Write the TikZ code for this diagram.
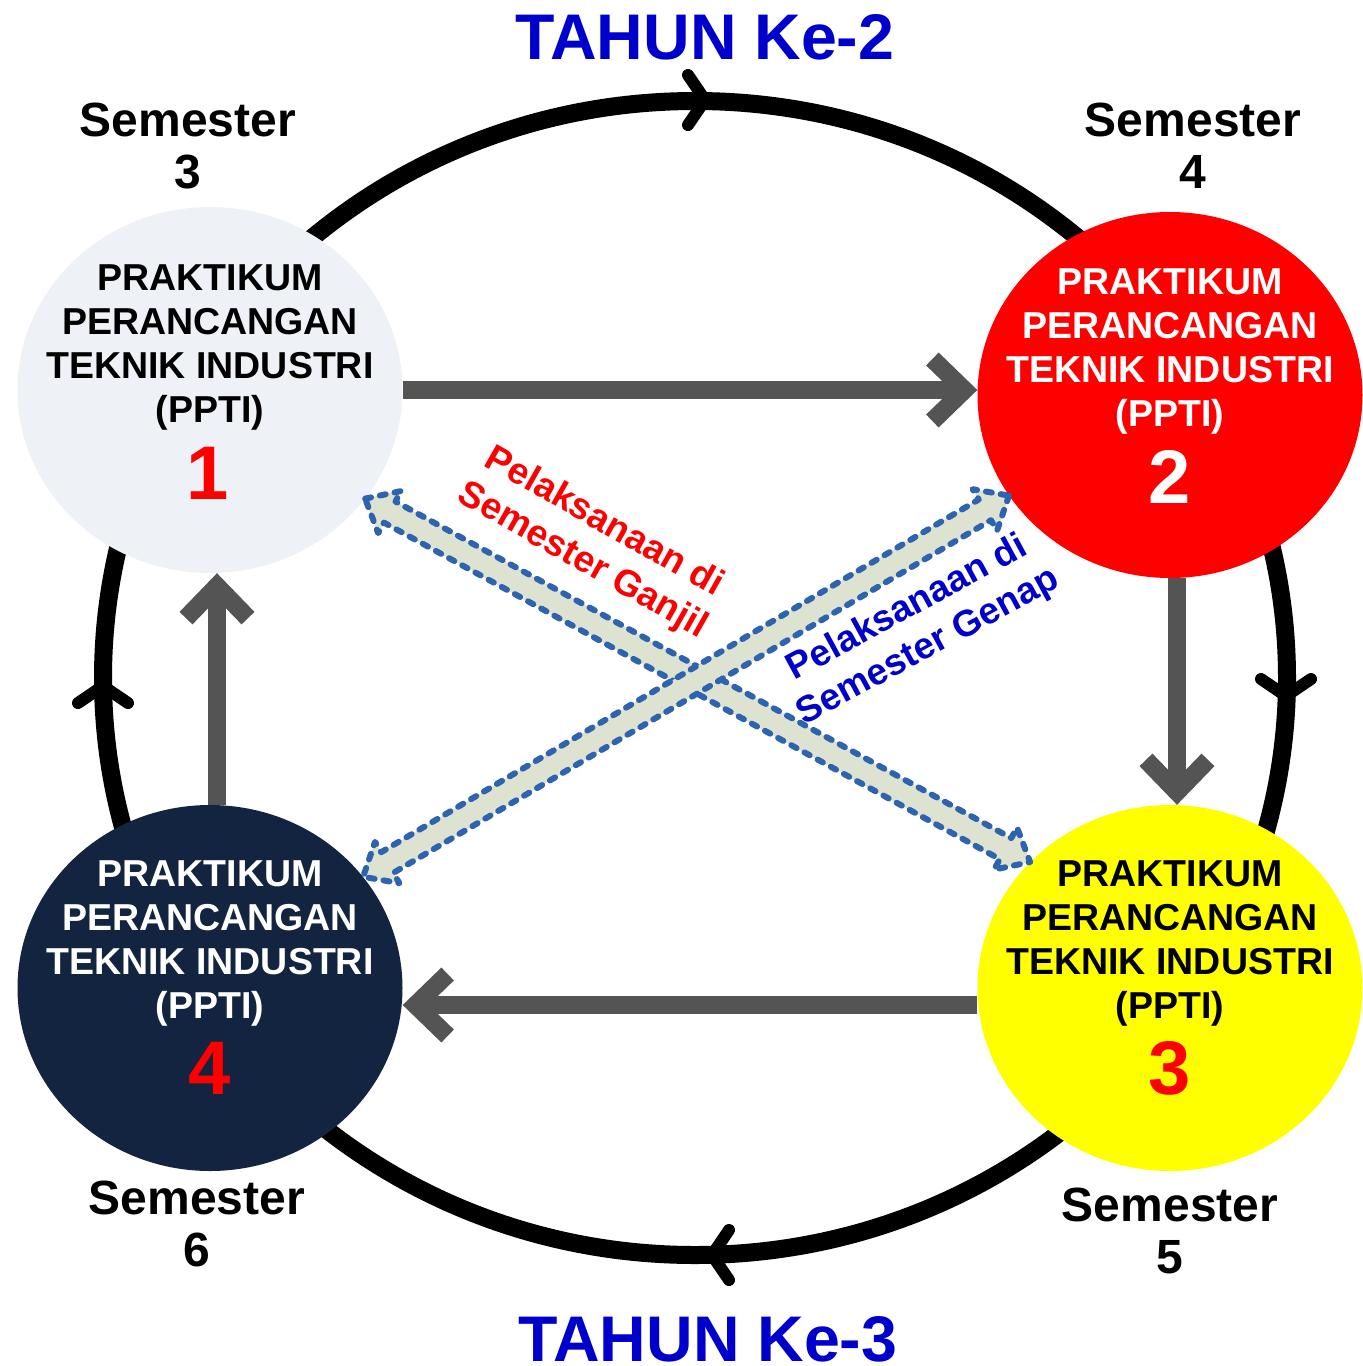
\documentclass[tikz,border=0pt]{standalone}
\usepackage{fontspec}
\setmainfont{Liberation Sans}
\usetikzlibrary{arrows.meta,calc,shapes.geometric}

\definecolor{titleblue}{RGB}{0,0,204}
\definecolor{ptired}{RGB}{255,0,0}
\definecolor{ptiyellow}{RGB}{255,255,0}
\definecolor{ptinavy}{RGB}{18,36,64}
\definecolor{ptipale}{RGB}{238,242,247}
\definecolor{flowgrey}{RGB}{84,84,84}
\definecolor{dashblue}{RGB}{46,100,175}
\definecolor{dashfill}{RGB}{221,227,208}

\newcommand\fsz[2]{\fontsize{#1}{#2}\selectfont}

\begin{document}
\begin{tikzpicture}[x=1pt,y=-1pt,
  stage/.style={ellipse, minimum width=385pt, minimum height=366pt, inner sep=0pt, draw=none},
  stagetext/.style={anchor=north, inner sep=0pt, align=center, font=\bfseries\fsz{37.5}{44}},
  stagenum/.style={anchor=center, inner sep=0pt, font=\bfseries\fsz{76}{80}},
  semlabel/.style={anchor=north, inner sep=0pt, align=center, font=\bfseries\fsz{48}{52}},
  yearlabel/.style={anchor=north, inner sep=0pt, text=titleblue, font=\bfseries\fsz{64.5}{70}},
  flow/.style={draw=flowgrey, line width=18pt, -{Straight Barb[length=32pt,width=62pt]}},
  cyclearm/.style={line width=12pt, line cap=round, line join=round},
  block/.style={fill=dashfill, draw=dashblue, line width=6pt, dash pattern=on 6pt off 9pt, line cap=round, line join=round},
  note/.style={inner sep=0pt, align=center, font=\bfseries\fsz{37}{44}},
  chevron/.pic={\draw[cyclearm] (-17pt,-25pt) -- (0pt,0pt) -- (-17pt,25pt);}
]
% page
\path[fill=white] (0,0) rectangle (1363,1366);

% yearly cycle
\draw[line width=18pt] (695,678) ellipse [x radius=592pt, y radius=577pt];
\pic at (705,100) {chevron};
\pic[rotate=-90] at (1286,696) {chevron};
\pic[rotate=180] at (712,1255) {chevron};
\pic[rotate=90] at (103,686) {chevron};

% the four practicum stages
\node[stage, fill=ptipale] (n1) at (210,390) {};
\node[stage, fill=ptired] (n2) at (1170,395) {};
\node[stage, fill=ptiyellow] (n3) at (1170,988) {};
\node[stage, fill=ptinavy] (n4) at (210,988) {};

\node[stagetext, text=black] (t1) at (210,264) {PRAKTIKUM\\PERANCANGAN\\TEKNIK INDUSTRI\\(PPTI)};
\node[stagenum, text=ptired] (k1) at (208,473) {1};
\node[stagetext, text=white] (t2) at (1170,268) {PRAKTIKUM\\PERANCANGAN\\TEKNIK INDUSTRI\\(PPTI)};
\node[stagenum, text=white] (k2) at (1170,477) {2};
\node[stagetext, text=black] (t3) at (1170,860) {PRAKTIKUM\\PERANCANGAN\\TEKNIK INDUSTRI\\(PPTI)};
\node[stagenum, text=ptired] (k3) at (1170,1068) {3};
\node[stagetext, text=white] (t4) at (210,860) {PRAKTIKUM\\PERANCANGAN\\TEKNIK INDUSTRI\\(PPTI)};
\node[stagenum, text=ptired] (k4) at (210,1068) {4};

% sequence arrows between stages
\draw[flow] (n1.east) -- (n1.east -| n2.west);
\draw[flow] ($(n2.south)+(7,0)$) -- ($(n2.south |- n3.north)+(7,0)$);
\draw[flow] ($(n3.west)+(0,17)$) -- ($(n3.west -| n4.east)+(0,17)$);
\draw[flow] ($(n4.north)+(7,0)$) -- ($(n4.north |- n1.south)+(7,0)$);

% odd / even semester links
\coordinate (ga) at (n1.-35);
\coordinate (gb) at (n3.138);
\coordinate (ea) at (n2.-148);
\coordinate (eb) at (n4.36);

\draw[block] (ga)
  -- ($(ga)!28pt!(gb)!24pt!90:(gb)$) -- ($(ga)!28pt!(gb)!12pt!90:(gb)$)
  -- ($(gb)!28pt!(ga)!12pt!-90:(ga)$) -- ($(gb)!28pt!(ga)!24pt!-90:(ga)$)
  -- (gb)
  -- ($(gb)!28pt!(ga)!24pt!90:(ga)$) -- ($(gb)!28pt!(ga)!12pt!90:(ga)$)
  -- ($(ga)!28pt!(gb)!12pt!-90:(gb)$) -- ($(ga)!28pt!(gb)!24pt!-90:(gb)$)
  -- cycle;
\draw[block] (ea)
  -- ($(ea)!28pt!(eb)!24pt!90:(eb)$) -- ($(ea)!28pt!(eb)!12pt!90:(eb)$)
  -- ($(eb)!28pt!(ea)!12pt!-90:(ea)$) -- ($(eb)!28pt!(ea)!24pt!-90:(ea)$)
  -- (eb)
  -- ($(eb)!28pt!(ea)!24pt!90:(ea)$) -- ($(eb)!28pt!(ea)!12pt!90:(ea)$)
  -- ($(ea)!28pt!(eb)!12pt!-90:(eb)$) -- ($(ea)!28pt!(eb)!24pt!-90:(eb)$)
  -- cycle;

\node[note, text=ptired, rotate=-29.5] (odd) at (593,542) {Pelaksanaan di\\Semester Ganjil};
\node[note, text=titleblue, rotate=28.5] (even) at (918,628) {Pelaksanaan di\\Semester Genap};

% semester labels
\node[semlabel] (s3) at (188,103) {Semester\\3};
\node[semlabel] (s4) at (1193,103) {Semester\\4};
\node[semlabel] (s5) at (1170,1188) {Semester\\5};
\node[semlabel] (s6) at (197,1181) {Semester\\6};

% years
\node[yearlabel] (y2) at (705,14) {TAHUN Ke-2};
\node[yearlabel] (y3) at (708,1316) {TAHUN Ke-3};
\end{tikzpicture}
\end{document}
